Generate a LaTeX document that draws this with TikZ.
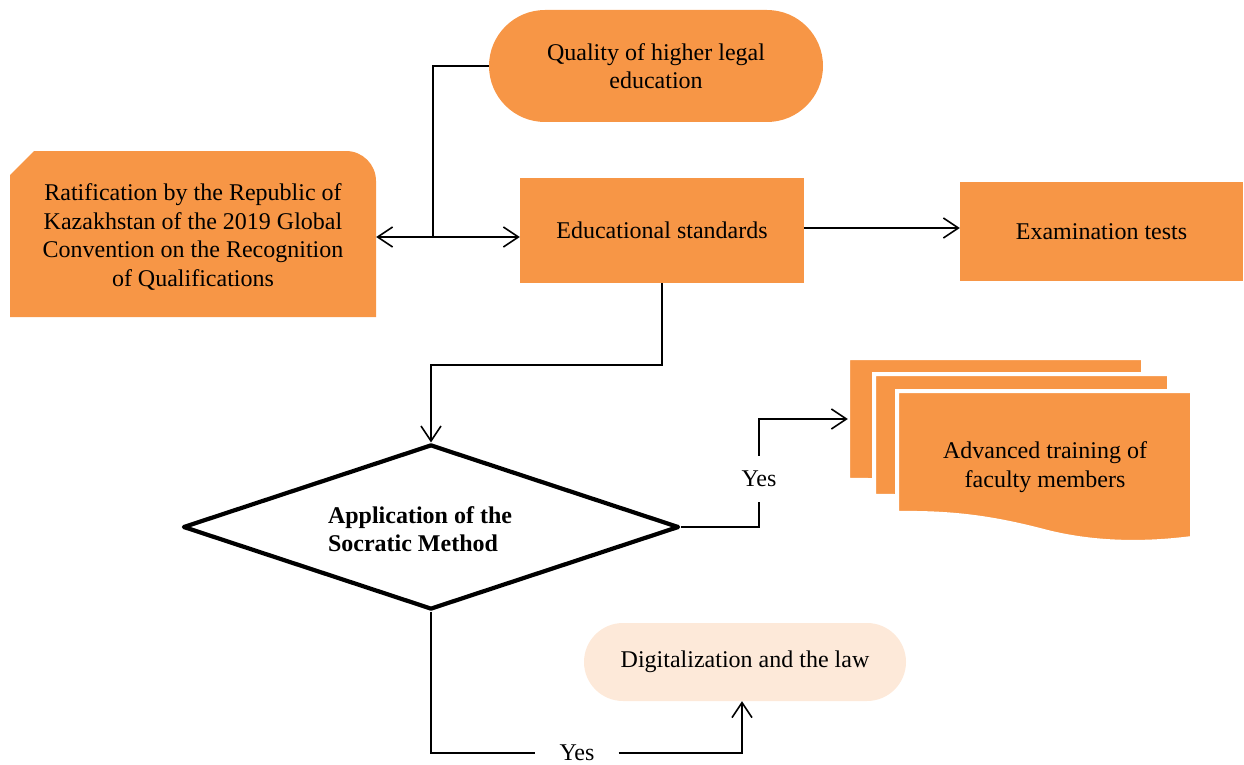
\documentclass[tikz,border=0pt]{standalone}
\usepackage{fontspec}
\setmainfont{Liberation Serif}
\usetikzlibrary{arrows.meta,shapes.geometric,calc}
\definecolor{orng}{HTML}{F79646}
\definecolor{peach}{HTML}{FDE9D9}
\newcommand\sheetshape{(0,0) -- (295,0) -- (295,147) .. controls (233,155) and (183,150) .. (143,139) .. controls (103,129) and (63,121) .. (0,122) -- cycle}
\begin{document}
\begin{tikzpicture}[x=1pt,y=-1pt,
  font=\fontsize{24}{28.5}\selectfont,
  box/.style={fill=orng, inner sep=0pt, align=center},
  conn/.style={line width=1.6pt},
  arr/.style={line width=1.6pt, -{Straight Barb[length=15pt,width=20pt]}},
  darr/.style={line width=1.6pt, {Straight Barb[length=15pt,width=20pt]}-{Straight Barb[length=15pt,width=20pt]}},
  sheet/.style={fill=orng, draw=white, line width=4pt},
  lbl/.style={inner sep=0pt, minimum width=83pt, minimum height=46pt}]
\useasboundingbox (0,0) rectangle (1244,765);

% Quality of higher legal education
\node[box, rounded corners=56pt, minimum width=334pt, minimum height=112pt] (qual) at (656,66) {Quality of higher legal\\education};

% Ratification shape
\fill[orng] (10,317) -- (10,175) -- (34,151) [rounded corners=30pt] -- (376,151) [sharp corners] -- (376,317) -- cycle;
\node[inner sep=0pt, align=center, minimum width=366pt, minimum height=166pt] (ratif) at (193,237) {Ratification by the Republic of\\Kazakhstan of the 2019 Global\\Convention on the Recognition\\of Qualifications};

% Educational standards, Examination tests
\node[box, minimum width=284pt, minimum height=105pt] (std) at (662,230.5) {\raisebox{-2pt}{Educational standards}};
\node[box, minimum width=283pt, minimum height=99pt] (exam) at (1101.5,231.5) {\raisebox{-2pt}{Examination tests}};

% Decision diamond
\node[diamond, draw, line width=4.2pt, line join=round, minimum width=496pt, minimum height=165pt, inner sep=0pt] (dia) at (431,527) {};
\node[font=\fontsize{24}{28.5}\selectfont\bfseries, align=left, inner sep=0pt] (diatext) at (420,529) {Application of the\\Socratic Method};

% Stacked documents
\begin{scope}[shift={(848,358)}]
  \filldraw[sheet] \sheetshape;
\end{scope}
\begin{scope}[shift={(874,374)}]
  \filldraw[sheet] \sheetshape;
\end{scope}
\begin{scope}[shift={(897,391)}]
  \filldraw[sheet] \sheetshape;
\end{scope}
\node[inner sep=0pt, minimum width=295pt, minimum height=123pt] (backsheet) at (995.5,419) {};
\node[align=center, inner sep=0pt] (adv) at (1045,467) {Advanced training of\\faculty members};

% Digitalization
\node[fill=peach, rounded corners=39pt, minimum width=322pt, minimum height=78pt, inner sep=0pt] (dig) at (745,662) {\raisebox{-2pt}{Digitalization and the law}};

% Yes labels
\node[lbl] (yes1) at (759,479) {Yes};
\node[lbl] (yes2) at (577,753) {Yes};

% Connectors
\coordinate (j) at (433,236);
\draw[conn] (qual.west) -| (j);
\draw[darr] (ratif.east) -- (ratif.east -| std.west);
\draw[arr] ([yshift=2.5pt]std.east) -- ([yshift=2.5pt]std.east -| exam.west);
\draw[arr] (std.south) -- ++(0,82) -| (dia.north);
\draw[conn] (dia.east) -| (yes1.south);
\draw[arr] (yes1.north) |- (backsheet.west);
\draw[conn] (dia.south) |- (yes2.west);
\draw[arr] (yes2.east) -| ([xshift=-3pt]dig.south);
\end{tikzpicture}
\end{document}
